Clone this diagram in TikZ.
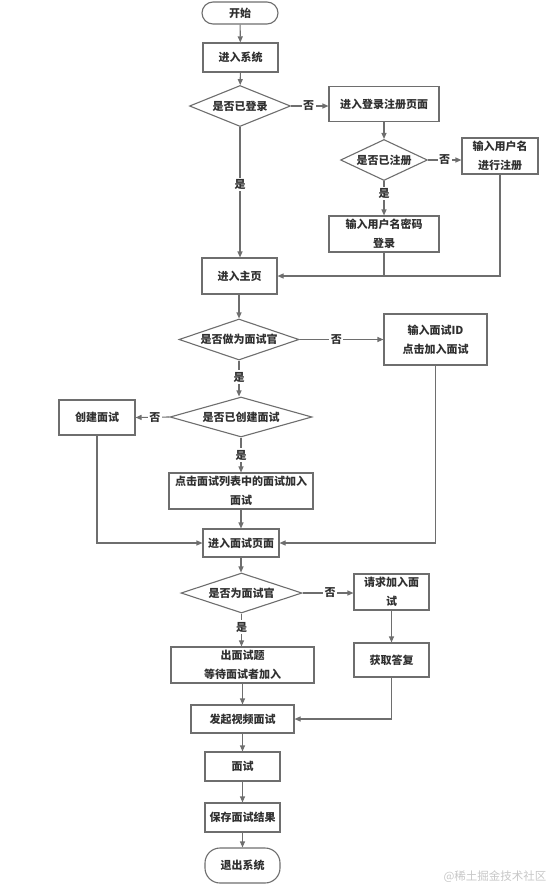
\documentclass[tikz,border=0pt]{standalone}
\usepackage{fontspec}
\newfontfamily\cjk{Noto Sans CJK SC}
\usetikzlibrary{shapes.geometric,arrows.meta}
\definecolor{ln}{HTML}{6E6E6E}
\definecolor{tx}{HTML}{303030}
\begin{document}
\begin{tikzpicture}[x=1pt,y=-1pt,
  every node/.style={font={\cjk\bfseries\fontsize{11}{19}\selectfont},text=tx},
  box/.style={draw=ln,line width=1.1pt,fill=white,inner sep=0pt,align=center,minimum width=#1},
  box/.default=75pt,
  term/.style={draw=ln,line width=1.1pt,fill=white,inner sep=0pt,minimum width=75pt,rounded corners=11pt},
  dec/.style={draw=ln,line width=1.1pt,fill=white,diamond,aspect=3,inner sep=0pt},
  lbl/.style={fill=white,inner sep=1.5pt},
  arr/.style={draw=ln,line width=1.1pt,-{Triangle[length=6pt,width=5pt]}},
  ln/.style={draw=ln,line width=1.1pt}]
\useasboundingbox (0,0) rectangle (548,889);
\node[term,minimum width=76pt,minimum height=22pt] (start) at (240,13) {开始};
\node[box=75pt,minimum height=29pt] (sys) at (240.5,57.5) {进入系统};
\node[dec,minimum width=101pt,minimum height=41pt] (d1) at (240,106) {是否已登录};
\node[box=110pt,minimum height=35pt] (regpage) at (384,104) {进入登录注册页面};
\node[dec,minimum width=86pt,minimum height=41pt] (d2) at (384,160) {是否已注册};
\node[box=76pt,minimum height=36pt] (reg) at (500,156) {输入用户名\\进行注册};
\node[box=110pt,minimum height=36pt] (login) at (384,234) {输入用户名密码\\登录};
\node[box=75pt,minimum height=36pt] (home) at (239.5,276) {进入主页};
\node[dec,minimum width=120pt,minimum height=41pt] (d3) at (239,339.5) {是否做为面试官};
\node[box=103pt,minimum height=51pt] (inputid) at (435.5,339.5) {输入面试ID\\点击加入面试};
\node[dec,minimum width=142pt,minimum height=40pt] (d4) at (241,417) {是否已创建面试};
\node[box=76pt,minimum height=35pt] (create) at (97,417.5) {创建面试};
\node[box=144pt,minimum height=36pt] (list) at (241,491) {点击面试列表中的面试加入\\面试};
\node[box=76pt,minimum height=28pt] (page) at (241,543) {进入面试页面};
\node[dec,minimum width=121pt,minimum height=40pt] (d5) at (241.5,593) {是否为面试官};
\node[box=75pt,minimum height=36pt] (req) at (391.5,592) {请求加入面\\试};
\node[box=143pt,minimum height=36pt] (exam) at (242.5,665) {出面试题\\等待面试者加入};
\node[box=75pt,minimum height=34pt] (reply) at (391.5,660) {获取答复};
\node[box=103pt,minimum height=28pt] (video) at (242.5,719) {发起视频面试};
\node[box=75pt,minimum height=29pt] (mian) at (242.5,766.5) {面试};
\node[box=75pt,minimum height=29pt] (save) at (242.5,817.5) {保存面试结果};
\node[term,minimum height=35pt,rounded corners=15pt] (exit) at (242.5,865.5) {退出系统};
\node[font={\cjk\fontsize{11.5}{14}\selectfont},text=black!22] (wm) at (495,877) {@稀土掘金技术社区};
% connectors
\draw[arr] (start) -- (sys);
\draw[arr] (sys) -- (d1);
\draw[arr] (d1.east) -- node[lbl,pos=0.47]{否} (d1.east -| regpage.west);
\draw[arr] (regpage) -- (d2);
\draw[arr] (d2.east) -- node[lbl,pos=0.5]{否} (d2.east -| reg.west);
\draw[arr] (d2) -- node[lbl,pos=0.36]{是} (login);
\draw[arr] (d1.south) -- node[lbl,pos=0.44]{是} (d1.south |- home.north);
\draw[arr] (reg.south) |- (home.east);
\draw[ln] (login.south) -- (login.south |- home.east);
\draw[arr] (home.south -| d3.north) -- (d3.north);
\draw[arr] (d3.east) -- node[lbl,pos=0.44]{否} (inputid.west);
\draw[arr] (d3.south) -- node[lbl,pos=0.46]{是} (d3.south |- d4.north);
\draw[arr] (d4.west) -- node[lbl,pos=0.43]{否} (create.east);
\draw[arr] (d4) -- node[lbl,pos=0.5]{是} (list);
\draw[arr] (list) -- (page);
\draw[arr] (create.south) |- (page.west);
\draw[arr] (inputid.south) |- (page.east);
\draw[arr] (page.south) -- (page.south |- d5.north);
\draw[arr] (d5.east) -- node[lbl,pos=0.54]{否} (d5.east -| req.west);
\draw[arr] (d5.south) -- node[lbl,pos=0.41]{是} (d5.south |- exam.north);
\draw[arr] (req) -- (reply);
\draw[arr] (exam) -- (video);
\draw[arr] (reply.south) |- (video.east);
\draw[arr] (video) -- (mian);
\draw[arr] (mian) -- (save);
\draw[arr] (save) -- (exit);
\end{tikzpicture}
\end{document}
